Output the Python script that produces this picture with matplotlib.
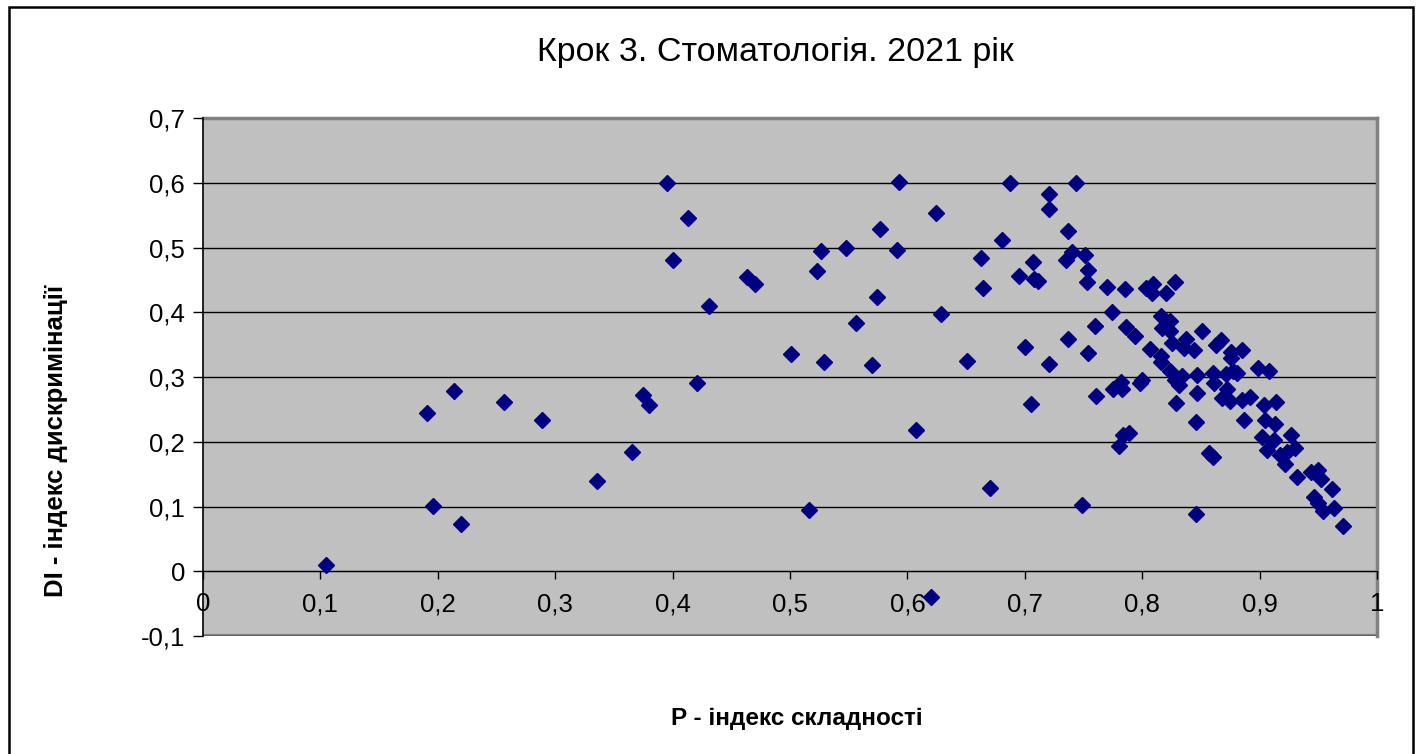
import matplotlib
matplotlib.use("Agg")
import matplotlib.pyplot as plt
from matplotlib.ticker import FuncFormatter, MultipleLocator
from matplotlib.patches import Rectangle

plt.rcParams['font.family'] = ['Liberation Sans', 'DejaVu Sans']

title = "Крок 3. Стоматологія. 2021 рік"
xlabel = "P - індекс складності"
ylabel = "DI - індекс дискримінації"

p_index = [
    0.105, 0.191, 0.196, 0.214, 0.220, 0.256, 0.289, 0.336, 0.365, 0.375, 0.380, 0.395, 0.400,
    0.413, 0.421, 0.431, 0.463, 0.470, 0.501, 0.516, 0.523, 0.526, 0.529, 0.548, 0.556, 0.570,
    0.574, 0.577, 0.591, 0.593, 0.607, 0.620, 0.624, 0.629, 0.651, 0.663, 0.664, 0.670, 0.681,
    0.687, 0.695, 0.700, 0.705, 0.707, 0.708, 0.711, 0.721, 0.721, 0.721, 0.735, 0.737, 0.737,
    0.740, 0.744, 0.749, 0.751, 0.753, 0.754, 0.754, 0.760, 0.761, 0.770, 0.774, 0.775, 0.780,
    0.782, 0.783, 0.784, 0.785, 0.786, 0.789, 0.794, 0.798, 0.800, 0.803, 0.807, 0.808, 0.809,
    0.816, 0.816, 0.816, 0.817, 0.820, 0.820, 0.824, 0.824, 0.825, 0.824, 0.828, 0.828, 0.829,
    0.831, 0.834, 0.836, 0.837, 0.844, 0.846, 0.846, 0.847, 0.847, 0.851, 0.857, 0.860, 0.860,
    0.861, 0.863, 0.867, 0.868, 0.871, 0.872, 0.875, 0.876, 0.876, 0.877, 0.881, 0.885, 0.885,
    0.887, 0.892, 0.899, 0.902, 0.904, 0.905, 0.906, 0.908, 0.912, 0.913, 0.914, 0.917, 0.922,
    0.923, 0.927, 0.930, 0.932, 0.944, 0.946, 0.950, 0.950, 0.952, 0.954, 0.962, 0.963, 0.971,
]
di_index = [
    0.010, 0.245, 0.101, 0.279, 0.073, 0.262, 0.234, 0.139, 0.184, 0.272, 0.256, 0.600, 0.480,
    0.546, 0.291, 0.410, 0.454, 0.443, 0.336, 0.095, 0.464, 0.494, 0.323, 0.500, 0.383, 0.319,
    0.423, 0.529, 0.496, 0.601, 0.218, -0.039, 0.553, 0.397, 0.325, 0.484, 0.437, 0.129, 0.511,
    0.600, 0.456, 0.346, 0.259, 0.478, 0.451, 0.448, 0.582, 0.560, 0.320, 0.480, 0.525, 0.358,
    0.493, 0.599, 0.103, 0.489, 0.447, 0.465, 0.337, 0.378, 0.270, 0.439, 0.400, 0.282, 0.193,
    0.292, 0.282, 0.211, 0.436, 0.377, 0.214, 0.364, 0.291, 0.296, 0.437, 0.343, 0.429, 0.443,
    0.394, 0.333, 0.323, 0.376, 0.430, 0.380, 0.386, 0.371, 0.352, 0.310, 0.446, 0.295, 0.260,
    0.287, 0.302, 0.345, 0.358, 0.341, 0.088, 0.230, 0.303, 0.276, 0.371, 0.182, 0.177, 0.306,
    0.290, 0.350, 0.357, 0.268, 0.305, 0.281, 0.263, 0.339, 0.330, 0.309, 0.306, 0.341, 0.265,
    0.234, 0.269, 0.314, 0.208, 0.257, 0.234, 0.187, 0.310, 0.202, 0.227, 0.262, 0.180, 0.165,
    0.184, 0.210, 0.190, 0.146, 0.154, 0.115, 0.156, 0.105, 0.142, 0.093, 0.127, 0.097, 0.070,
]

W, H = 1421, 754
fig = plt.figure(figsize=(W / 100, H / 100), dpi=100)
fig.patch.set_facecolor('white')
fig.patches.append(Rectangle((9 / W, -10 / H), (1413 - 9) / W, (747 + 10) / H,
                             transform=fig.transFigure, fill=False,
                             edgecolor='black', linewidth=1.8, zorder=10))

ax = fig.add_axes([203 / W, 1 - 636 / H, (1377 - 203) / W, (636 - 118) / H])
ax.set_facecolor('#C0C0C0')
ax.set_xlim(0, 1)
ax.set_ylim(-0.1, 0.7)
ax.xaxis.set_major_locator(MultipleLocator(0.1))
ax.yaxis.set_major_locator(MultipleLocator(0.1))


def fmt(v, pos):
    v = round(v, 2)
    if abs(v) < 1e-9:
        return "0"
    if abs(v - round(v)) < 1e-9:
        return str(int(round(v)))
    return f"{v:.1f}".replace('.', ',')


ax.xaxis.set_major_formatter(FuncFormatter(fmt))
ax.yaxis.set_major_formatter(FuncFormatter(fmt))

ax.grid(axis='y', color='black', linewidth=1.0, zorder=1)
ax.set_axisbelow(True)

ax.spines['bottom'].set_position(('data', 0))
ax.spines['bottom'].set_color('black')
ax.spines['left'].set_color('black')
ax.spines['left'].set_linewidth(1.2)
for s in ('top', 'right'):
    ax.spines[s].set_color('#808080')
    ax.spines[s].set_linewidth(2.5)
    ax.spines[s].set_zorder(2)
ax.axhline(-0.1, color='#808080', linewidth=3, zorder=0.5)
ax.xaxis.set_zorder(3)

ax.tick_params(axis='x', direction='out', length=6, width=1, pad=9,
               labelsize=18.5, colors='black')
ax.tick_params(axis='y', direction='out', length=7, width=1, pad=6,
               labelsize=18.5, colors='black')

ax.plot(p_index, di_index, linestyle='none', marker='D', markersize=8,
        color='#000080', markeredgecolor='#000080', zorder=5, clip_on=False)

fig.text(775 / W, 1 - 52 / H, title, ha='center', va='center', fontsize=24.5)
fig.text(797 / W, 1 - 719 / H, xlabel, ha='center', va='center', fontsize=17.5,
         fontweight='bold')
fig.text(56 / W, 1 - 441 / H, ylabel, ha='center', va='center', fontsize=18.5,
         fontweight='bold', rotation=90)

fig.savefig('out.png', dpi=100)
